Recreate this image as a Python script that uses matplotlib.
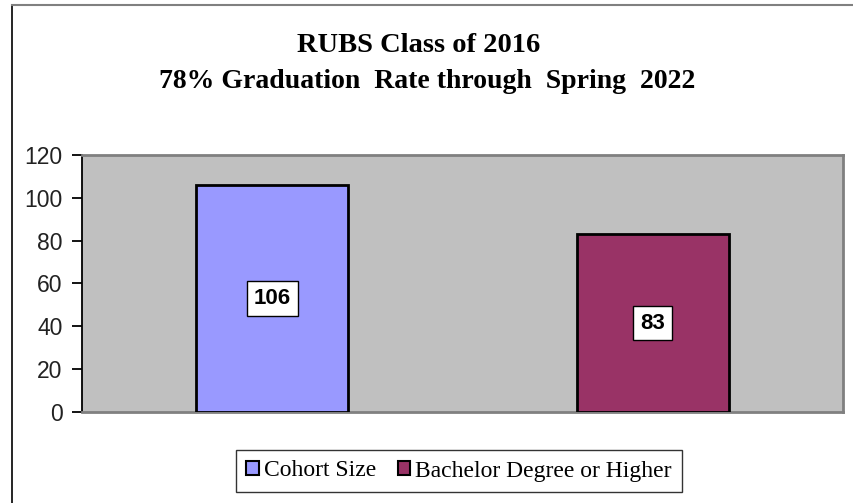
import matplotlib.pyplot as plt
from matplotlib.patches import Patch
from matplotlib.lines import Line2D

# data
series = ['Cohort Size', 'Bachelor Degree or Higher']
values = [106, 83]
colors = ['#9999FF', '#993366']
yticks = [0, 20, 40, 60, 80, 100, 120]

fig = plt.figure(figsize=(8.54, 5.03), dpi=100)
ax = fig.add_axes([0.096, 0.181, 0.891, 0.511])

# screenshot frame (left and top edges only)
fig.add_artist(Line2D([12/854, 12/854], [0, 1 - 5/503], color='black', lw=1.2))
fig.add_artist(Line2D([12/854, 1], [1 - 5/503, 1 - 5/503], color='#808080', lw=1.5))

ax.set_facecolor('#C0C0C0')
x = range(len(values))
bars = ax.bar(x, values, width=0.4, color=colors, edgecolor='black', linewidth=2, zorder=3)

for xi, v in zip(x, values):
    ax.text(xi, v / 2, str(v), ha='center', va='center', fontsize=16, fontweight='bold',
            family='Liberation Sans', zorder=4,
            bbox=dict(facecolor='white', edgecolor='black', linewidth=1, pad=5))

ax.set_xlim(-0.5, 1.5)
ax.set_ylim(0, 120)
ax.set_yticks(yticks)
ax.set_xticks([])
ax.tick_params(axis='y', direction='out', length=7, width=1.3, color='black',
               labelsize=16.5, pad=7)
for lab in ax.get_yticklabels():
    lab.set_family('Liberation Sans')
    lab.set_color('#222222')

for side in ['top', 'right', 'bottom']:
    ax.spines[side].set_color('#808080')
    ax.spines[side].set_linewidth(2)
ax.spines['left'].set_color('black')
ax.spines['left'].set_linewidth(1.3)

fig.text(0.49, 1 - 45/503, 'RUBS Class of 2016', ha='center', va='center',
         fontsize=20.5, fontweight='bold', family='Liberation Serif')
fig.text(0.5, 1 - 81/503, '78% Graduation  Rate through  Spring  2022', ha='center', va='center',
         fontsize=20, fontweight='bold', family='Liberation Serif')

handles = [Patch(facecolor=c, edgecolor='black', linewidth=1.5) for c in colors]
leg = fig.legend(handles, series, loc='center', bbox_to_anchor=(459/854, 1 - 471/503),
                 ncol=2, frameon=True, fancybox=False, prop={'family': 'Liberation Serif', 'size': 17},
                 handlelength=0.55, handleheight=0.55, handletextpad=0.2, columnspacing=0.9,
                 borderpad=0.45)
leg.get_frame().set_edgecolor('black')
leg.get_frame().set_linewidth(1)

fig.savefig('out.png', dpi=100)
